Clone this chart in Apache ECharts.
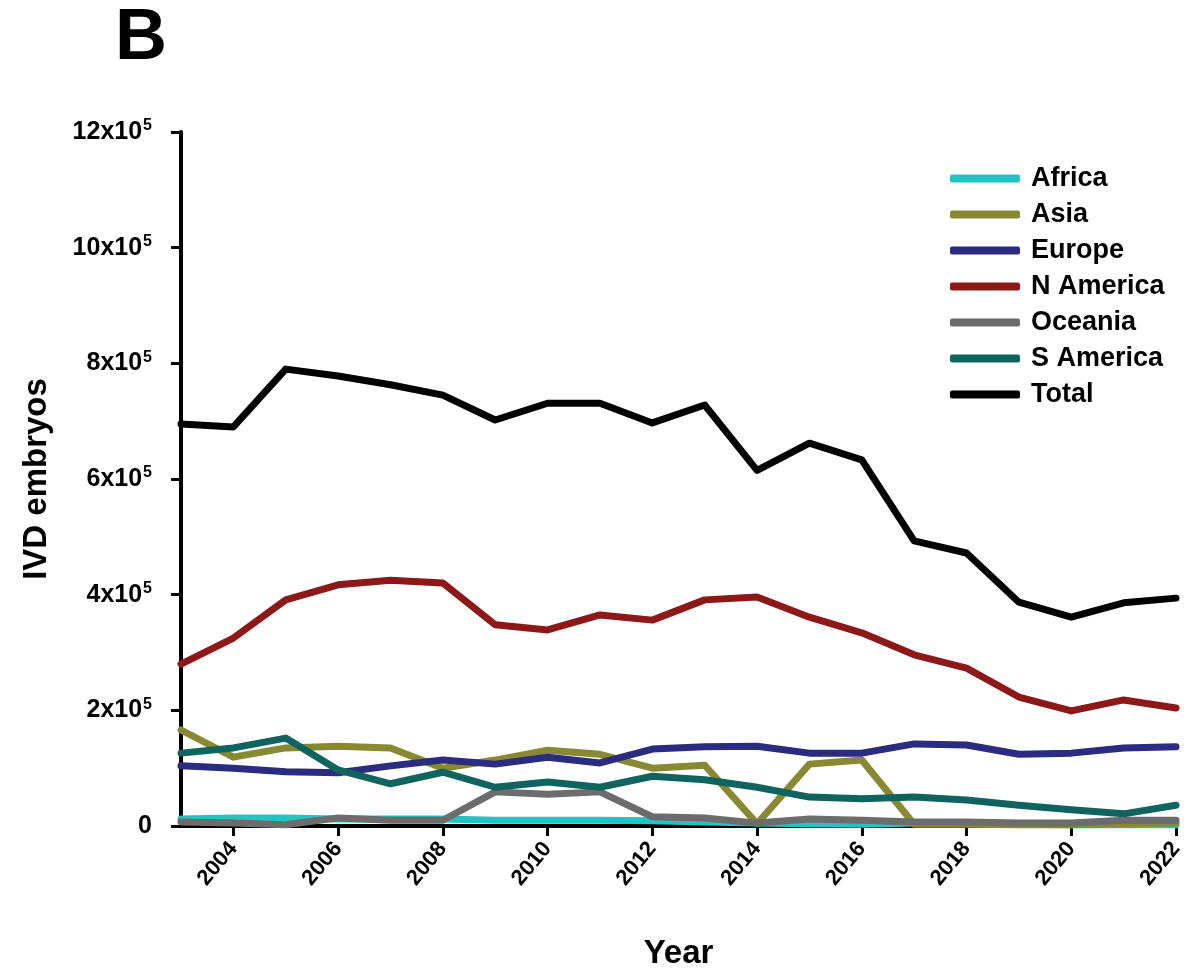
<!DOCTYPE html>
<html><head><meta charset="utf-8">
<script src="https://cdn.jsdelivr.net/npm/echarts@6/dist/echarts.min.js"></script>
<style>html,body{margin:0;padding:0;background:#fff}#c{width:1196px;height:968px}</style>
</head><body><div id="c"></div>
<script>
const years = ['2003','2004','2005','2006','2007','2008','2009','2010','2011','2012','2013','2014','2015','2016','2017','2018','2019','2020','2021','2022'];
const africa   = [12000,14000,14000,12000,12000,12000,10000,10000,10000,9000,7000,5000,4000,3000,5000,5000,3000,2000,2000,2000];
const asia     = [166000,119000,135000,138000,135000,100000,114000,131000,124000,100000,105000,4000,107000,114000,3000,3000,2000,2000,4000,5000];
const europe   = [104000,100000,94000,92000,104000,114000,107000,119000,109000,133000,137000,138000,126000,126000,142000,140000,124000,126000,135000,137000];
const nAmerica = [280000,325000,391000,417000,425000,420000,348000,339000,365000,356000,391000,396000,361000,334000,296000,273000,223000,199000,218000,204000];
const oceania  = [7000,5000,2000,14000,10000,10000,59000,55000,59000,16000,14000,5000,12000,10000,7000,7000,5000,5000,10000,10000];
const sAmerica = [126000,135000,152000,97000,73000,93000,67000,76000,67000,86000,80000,67000,50000,47000,50000,45000,36000,28000,21000,36000];
const total    = [695000,690000,790000,778000,763000,745000,702000,731000,731000,697000,728000,615000,662000,633000,493000,472000,387000,361000,386000,394000];
const seriesNames = ['Africa','Asia','Europe','N America','Oceania','S America','Total'];
const seriesData = [africa, asia, europe, nAmerica, oceania, sAmerica, total];
const colors = ['#22c3c3','#878a33','#2b2b80','#8c1818','#6c6c6c','#10645f','#000000'];

const font = '"Liberation Sans", Arial, sans-serif';
const chart = echarts.init(document.getElementById('c'));
chart.setOption({
  animation: false,
  color: colors,
  title: { text: 'B', left: 110, top: -2, textStyle: { fontFamily: font, fontWeight: 'bold', fontSize: 72, color: '#000' } },
  legend: {
    orient: 'vertical', left: 945, top: 160, itemWidth: 70, itemHeight: 8, itemGap: 9,
    icon: 'roundRect',
    textStyle: { fontFamily: font, fontWeight: 'bold', fontSize: 27, color: '#000', padding: [0,0,0,6] },
    data: seriesNames
  },
  grid: { left: 181, right: 20, top: 132, bottom: 142, containLabel: false, outerBoundsMode: 'none' },
  xAxis: {
    type: 'category', data: years, boundaryGap: false,
    name: 'Year', nameLocation: 'middle', nameGap: 111,
    nameTextStyle: { fontFamily: font, fontWeight: 'bold', fontSize: 33, color: '#000' },
    axisLine: { lineStyle: { color: '#000', width: 4 } },
    axisTick: { show: true, length: 10, lineStyle: { width: 3, color: '#000' }, interval: (i) => i % 2 === 1 },
    axisLabel: { interval: (i) => i % 2 === 1, rotate: 50, margin: 19, fontFamily: font, fontWeight: 'bold', fontSize: 22, color: '#000' },
    splitLine: { show: false }
  },
  yAxis: {
    type: 'value', min: 0, max: 1200000, interval: 200000,
    name: 'IVD embryos', nameLocation: 'middle', nameGap: 128,
    nameTextStyle: { fontFamily: font, fontWeight: 'bold', fontSize: 33, color: '#000' },
    axisLine: { show: true, lineStyle: { color: '#000', width: 4 } },
    axisTick: { show: true, length: 10, lineStyle: { width: 3, color: '#000' } },
    splitLine: { show: false },
    axisLabel: {
      margin: 29, fontFamily: font, fontWeight: 'bold', color: '#000',
      formatter: (v) => v === 0 ? '{n|0}' : '{n|' + (v / 100000) + 'x10}{s|5}',
      rich: {
        n: { fontFamily: font, fontWeight: 'bold', fontSize: 25, color: '#000' },
        s: { fontFamily: font, fontWeight: 'bold', fontSize: 16, color: '#000', padding: [0, 0, 12, 1] }
      }
    }
  },
  series: seriesNames.map((n, i) => ({
    name: n, type: 'line', data: seriesData[i], showSymbol: false, symbol: 'none',
    lineStyle: { width: 7, color: colors[i], join: 'round', cap: 'round' },
    itemStyle: { color: colors[i] },
    z: 2 + i
  }))
});
</script></body></html>
